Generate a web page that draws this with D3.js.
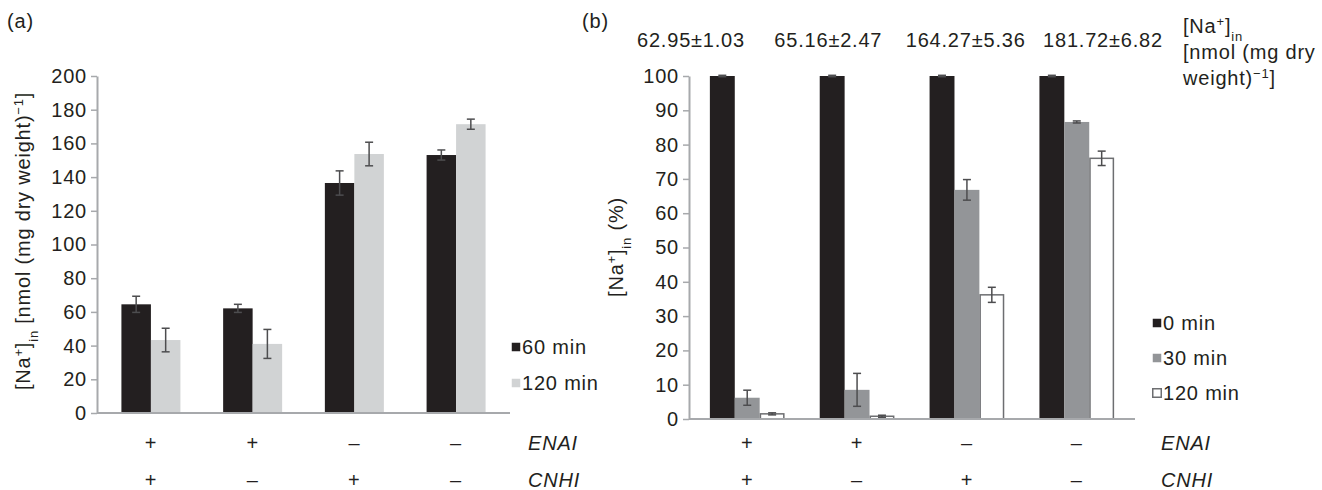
<!DOCTYPE html>
<style>
body { margin: 0; background: #fff; }
svg text { font-family: "Liberation Sans", Arial, sans-serif; fill: #231f20; letter-spacing: 0.8px; }
</style>
<svg width="1322" height="490"></svg>
<script src="https://d3js.org/d3.v7.min.js"></script>
<script>

// shared categories
var groups = ["g1", "g2", "g3", "g4"];
var enaiRow = ["+", "+", "–", "–"];
var cnhiRow = ["+", "–", "+", "–"];

// panel (a): [Na+]in, nmol (mg dry weight)-1
var aSeries = ["60 min", "120 min"];
var aValues = [[64.5, 62.1, 136.5, 153.1], [43.3, 41.0, 153.7, 171.4]];
var aErrors = [[4.8, 2.4, 7.2, 3.0], [7.0, 8.6, 7.0, 3.0]];
var aTicks = [0, 20, 40, 60, 80, 100, 120, 140, 160, 180, 200];

// panel (b): [Na+]in, % of 0 min
var bSeries = ["0 min", "30 min", "120 min"];
var bValues = [[100, 100, 100, 100], [6.2, 8.5, 66.8, 86.6], [1.5, 0.8, 36.2, 76.0]];
var bErrors = [[0.2, 0.2, 0.2, 0.2], [2.2, 4.8, 3.0, 0.3], [0.3, 0.3, 2.2, 2.1]];
var bTicks = [0, 10, 20, 30, 40, 50, 60, 70, 80, 90, 100];
var bTotals = ["62.95±1.03", "65.16±2.47", "164.27±5.36", "181.72±6.82"];

var svg = d3.select("svg");
var fs = 20;
var axisColor = "#a7a9ac",
    errColor = "#4d4d4f";

// write text made of normal / sup / sub pieces
function rich(t, parts) {
  parts.forEach(function(p) {
    var ts = t.append("tspan").text(p[0]);
    if (p[1] == "sup") ts.attr("baseline-shift", "super").attr("font-size", "65%");
    if (p[1] == "sub") ts.attr("baseline-shift", "sub").attr("font-size", "65%");
  });
  return t;
}

function panel(o) {
  var g = svg.append("g");
  var x = d3.scaleBand().domain(groups).range([o.x0, o.x1])
      .paddingInner(o.padIn).paddingOuter(o.padOut);
  var xs = d3.scaleBand().domain(o.series).range([0, x.bandwidth()]);
  var y = d3.scaleLinear().domain([0, o.max]).range([o.y0, o.y1]);

  // y axis
  var ax = g.append("g").attr("transform", "translate(" + o.x0 + ",0)")
      .call(d3.axisLeft(y).tickValues(o.ticks).tickSize(6).tickPadding(4).tickSizeOuter(0));
  ax.select(".domain").attr("stroke", axisColor).attr("stroke-width", 2);
  ax.selectAll(".tick line").attr("stroke", axisColor).attr("stroke-width", 1.5);
  ax.selectAll(".tick text").attr("font-size", fs).attr("fill", "#231f20")
      .attr("font-family", "Liberation Sans, Arial, sans-serif");

  // bars
  o.series.forEach(function(s, si) {
    var sg = g.append("g");
    sg.selectAll("rect").data(groups).enter().append("rect")
      .attr("x", function(d) { return x(d) + xs(s) + (o.outline[si] ? 0.75 : 0); })
      .attr("y", function(d, i) { return y(o.values[si][i]); })
      .attr("width", xs.bandwidth() - (o.outline[si] ? 1.5 : 0))
      .attr("height", function(d, i) { return o.y0 - y(o.values[si][i]); })
      .attr("fill", o.colors[si])
      .attr("stroke", o.outline[si] ? "#6d6e71" : "none")
      .attr("stroke-width", 1.5);

    // error bars
    var eb = sg.selectAll("g.err").data(groups).enter().append("g").attr("class", "err")
      .attr("transform", function(d) { return "translate(" + (x(d) + xs(s) + xs.bandwidth() / 2) + ",0)"; });
    eb.append("line")
      .attr("y1", function(d, i) { return y(o.values[si][i] + o.errors[si][i]); })
      .attr("y2", function(d, i) { return y(Math.max(0, o.values[si][i] - o.errors[si][i])); });
    eb.append("line").attr("x1", -4).attr("x2", 4)
      .attr("y1", function(d, i) { return y(o.values[si][i] + o.errors[si][i]); })
      .attr("y2", function(d, i) { return y(o.values[si][i] + o.errors[si][i]); });
    eb.append("line").attr("x1", -4).attr("x2", 4)
      .attr("y1", function(d, i) { return y(Math.max(0, o.values[si][i] - o.errors[si][i])); })
      .attr("y2", function(d, i) { return y(Math.max(0, o.values[si][i] - o.errors[si][i])); });
    eb.selectAll("line").attr("stroke", errColor).attr("stroke-width", 1.5);
  });

  // x baseline
  g.append("line").attr("x1", o.x0).attr("x2", o.x1).attr("y1", o.y0).attr("y2", o.y0)
    .attr("stroke", axisColor).attr("stroke-width", 2);

  // +/- rows under the axis
  [enaiRow, cnhiRow].forEach(function(row, ri) {
    g.selectAll("text.row" + ri).data(groups).enter().append("text")
      .attr("class", "row" + ri)
      .attr("x", function(d) { return x(d) + x.bandwidth() / 2; })
      .attr("y", ri ? 487 : 450)
      .attr("text-anchor", "middle").attr("font-size", fs)
      .text(function(d, i) { return row[i]; });
  });
  ["ENAI", "CNHI"].forEach(function(lab, ri) {
    g.append("text").attr("x", o.rowX).attr("y", ri ? 487 : 450)
      .attr("font-size", fs).attr("font-style", "italic").text(lab);
  });

  // legend
  var lg = g.append("g").selectAll("g").data(o.series).enter().append("g")
    .attr("transform", function(d, i) { return "translate(" + o.legX + "," + (o.legY + i * o.legStep) + ")"; });
  lg.append("rect").attr("x", 0.75).attr("y", -4.25).attr("width", 8.5).attr("height", 8.5)
    .attr("fill", function(d, i) { return o.colors[i]; })
    .attr("stroke", function(d, i) { return o.outline[i] ? "#6d6e71" : "none"; })
    .attr("stroke-width", 1.5);
  lg.append("text").attr("x", 11).attr("y", 7).attr("font-size", fs).text(function(d) { return d; });

  return { x: x, y: y };
}

var pa = panel({
  x0: 97, x1: 510, y0: 413, y1: 76, max: 200, ticks: aTicks,
  padIn: 0.42, padOut: 0.24,
  series: aSeries, values: aValues, errors: aErrors,
  colors: ["#231f20", "#d1d3d4"], outline: [false, false],
  rowX: 528, legX: 511, legY: 347, legStep: 36
});

var pb = panel({
  x0: 689, x1: 1135, y0: 419, y1: 76, max: 100, ticks: bTicks,
  padIn: 0.32, padOut: 0.19,
  series: bSeries, values: bValues, errors: bErrors,
  colors: ["#231f20", "#939598", "#ffffff"], outline: [false, false, true],
  rowX: 1161, legX: 1152, legY: 323, legStep: 35
});

// panel letters
svg.append("text").attr("x", 7).attr("y", 28).attr("font-size", 20).text("(a)");
svg.append("text").attr("x", 582).attr("y", 28).attr("font-size", 20).text("(b)");

// y axis titles
rich(svg.append("text").attr("transform", "translate(30,241) rotate(-90)")
  .attr("text-anchor", "middle").attr("font-size", fs),
  [["[Na", ""], ["+", "sup"], ["]", ""], ["in", "sub"], [" [nmol (mg dry weight)", ""], ["−1", "sup"], ["]", ""]]);
rich(svg.append("text").attr("transform", "translate(623,247) rotate(-90)")
  .attr("text-anchor", "middle").attr("font-size", fs),
  [["[Na", ""], ["+", "sup"], ["]", ""], ["in", "sub"], [" (%)", ""]]);

// absolute amounts over panel (b)
var xt = d3.scalePoint().domain(groups).range([691, 1103]);
svg.selectAll("text.total").data(groups).enter().append("text")
  .attr("class", "total")
  .attr("x", function(d) { return xt(d); })
  .attr("y", 47).attr("text-anchor", "middle").attr("font-size", fs)
  .text(function(d, i) { return bTotals[i]; });

rich(svg.append("text").attr("x", 1183).attr("y", 33).attr("font-size", fs),
  [["[Na", ""], ["+", "sup"], ["]", ""], ["in", "sub"]]);
svg.append("text").attr("x", 1183).attr("y", 59).attr("font-size", fs).text("[nmol (mg dry");
rich(svg.append("text").attr("x", 1183).attr("y", 85).attr("font-size", fs),
  [["weight)", ""], ["−1", "sup"], ["]", ""]]);

</script>
